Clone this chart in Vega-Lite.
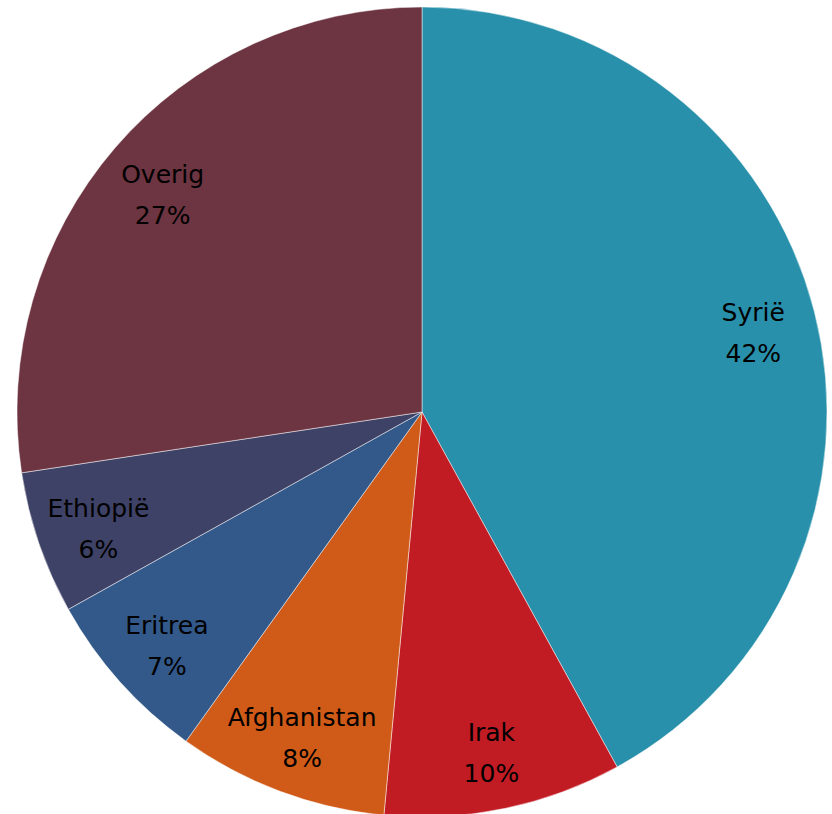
{
  "$schema": "https://vega.github.io/schema/vega-lite/v6.json",
  "autosize": {"type": "none"},
  "width": 810,
  "height": 804,
  "padding": {"left": 17, "top": 10, "right": 5, "bottom": 0},
  "background": "white",
  "data": {
    "values": [
      {"land": "Syrië", "aandeel": 42.0, "pct": "42%", "volgorde": 1},
      {"land": "Irak", "aandeel": 9.5, "pct": "10%", "volgorde": 2},
      {"land": "Afghanistan", "aandeel": 8.4, "pct": "8%", "volgorde": 3},
      {"land": "Eritrea", "aandeel": 7.0, "pct": "7%", "volgorde": 4},
      {"land": "Ethiopië", "aandeel": 5.7, "pct": "6%", "volgorde": 5},
      {"land": "Overig", "aandeel": 27.4, "pct": "27%", "volgorde": 6}
    ]
  },
  "encoding": {
    "theta": {"field": "aandeel", "type": "quantitative", "stack": true},
    "order": {"field": "volgorde", "type": "quantitative"}
  },
  "layer": [
    {
      "mark": {"type": "arc", "outerRadius": 405, "stroke": "#ffffff", "strokeWidth": 0.8, "strokeOpacity": 0.6},
      "encoding": {
        "color": {
          "field": "land",
          "type": "nominal",
          "legend": null,
          "scale": {
            "domain": ["Syrië", "Irak", "Afghanistan", "Eritrea", "Ethiopië", "Overig"],
            "range": ["#2890aa", "#c11b24", "#d05a17", "#33598a", "#3f4267", "#6d3441"]
          }
        }
      }
    },
    {
      "mark": {"type": "text", "radius": 342, "dy": -14, "font": "DejaVu Sans", "fontSize": 25, "color": "#000000"},
      "encoding": {"text": {"field": "land", "type": "nominal"}}
    },
    {
      "mark": {"type": "text", "radius": 342, "dy": 27, "font": "DejaVu Sans", "fontSize": 25, "color": "#000000"},
      "encoding": {"text": {"field": "pct", "type": "nominal"}}
    }
  ]
}
